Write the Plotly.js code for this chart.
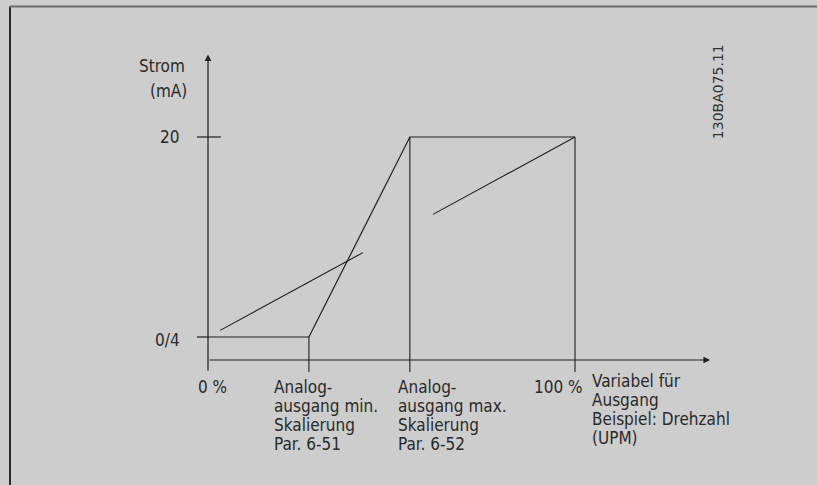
<!DOCTYPE html>
<html>
<head>
<meta charset="utf-8">
<script src="https://cdn.plot.ly/plotly-3.0.1.min.js"></script>
<style>
html,body{margin:0;padding:0;background:#cdcdcd;}
#chart{width:817px;height:485px;}
</style>
</head>
<body>
<div id="chart"></div>
<script>
// ---- data (x: % of output variable, y: current in mA) ----
var xMin = 27.5;          // Analog output min. scaling (Par. 6-51)
var xMax = 55;            // Analog output max. scaling (Par. 6-52)
var x100 = 100;
var yLow = 4;             // 0/4 mA
var yHigh = 20;           // 20 mA

// curve: flat at low, ramp between min and max, flat at high
var curveX = [0, xMin, xMax, x100];
var curveY = [yLow, yLow, yHigh, yHigh];

// reference linear line (drawn in two pieces)
var lin1X = [3.3, 42.2];
var lin1Y = [4.53, 10.75];
var lin2X = [61.3, 100];
var lin2Y = [13.81, 20];

// vertical guide lines
var guideX = [xMin, xMax, x100];
var guideTopY = [yLow, yHigh, yHigh];

// tick labels
var yTickVals = [yLow, yHigh];
var yTickText = ["0/4", "20"];
var yTitle = ["Strom", "(mA)"];
var xLabel0 = "0 %";
var xLabel100 = "100 %";
var xLabelMin = ["Analog-", "ausgang min.", "Skalierung", "Par. 6-51"];
var xLabelMax = ["Analog-", "ausgang max.", "Skalierung", "Par. 6-52"];
var xTitle = ["Variabel für", "Ausgang", "Beispiel: Drehzahl", "(UPM)"];
var docId = "130BA075.11";

// ---- layout helpers ----
var LC = "#1e1e1e";
var FONT = "DejaVu Sans Condensed, Liberation Sans Narrow, sans-serif";
var FS = 17;
var axisBottom = 1.2;     // axis line extension below x axis
var xAxisY = 2.16;
var yAxisTop = 26.6;
var xAxisEnd = 136.8;

var traces = [];
function seg(xs, ys, w) {
  traces.push({type: "scatter", mode: "lines", x: xs, y: ys,
    line: {color: LC, width: w || 1.2}, hoverinfo: "skip", showlegend: false, cliponaxis: false});
}
// curve
seg(curveX, curveY, 1.2);
// linear reference
seg(lin1X, lin1Y, 1.1);
seg(lin2X, lin2Y, 1.1);
// vertical guides down to below the x axis
for (var i = 0; i < guideX.length; i++) {
  seg([guideX[i], guideX[i]], [guideTopY[i], axisBottom], 1.1);
}
// y axis ticks (crossing the axis)
for (var j = 0; j < yTickVals.length; j++) {
  seg([-3, j === 0 ? 0 : 3.5], [yTickVals[j], yTickVals[j]], 1.2);
}

var ann = [];
function txt(x, y, t, xa, extra) {
  var a = {x: x, y: y, xref: "x", yref: "y", text: t, showarrow: false,
    xanchor: xa || "left", yanchor: "middle",
    font: {family: FONT, size: FS, color: "#2a2a2a"}};
  for (var k in extra) a[k] = extra[k];
  ann.push(a);
}
// axes with arrows
ann.push({x: 0, y: yAxisTop, ax: 0, ay: axisBottom, xref: "x", yref: "y", axref: "x", ayref: "y",
  showarrow: true, arrowhead: 2, arrowsize: 1.1, arrowwidth: 1.2, arrowcolor: LC, text: ""});
ann.push({x: xAxisEnd, y: xAxisY, ax: 0, ay: xAxisY, xref: "x", yref: "y", axref: "x", ayref: "y",
  showarrow: true, arrowhead: 2, arrowsize: 1.1, arrowwidth: 1.2, arrowcolor: LC, text: ""});

// y labels
txt(-5.7, 25.68, yTitle[0], "right");
txt(-5.3, 23.7, yTitle[1], "right");
txt(-7.3, yTickVals[1], yTickText[1], "right");
txt(-7.1, yTickVals[0] - 0.2, yTickText[0], "right");
// x labels
var lineStep = -1.52;
txt(1.2, 0.0, xLabel0, "center");
txt(102.7, 0.0, xLabel100, "right");
for (var m = 0; m < 4; m++) {
  txt(17.4, 0.0 + m * lineStep, xLabelMin[m], "left");
  txt(51.2, 0.0 + m * lineStep, xLabelMax[m], "left");
  txt(104.1, 0.48 + m * lineStep, xTitle[m], "left");
}
// document id, rotated
ann.push({x: 139, y: 23.6, xref: "x", yref: "y", text: docId, showarrow: false, textangle: -90,
  xanchor: "center", yanchor: "middle", font: {family: "DejaVu Sans, sans-serif", size: 14, color: "#333"}});

var layout = {
  width: 817, height: 485,
  margin: {l: 0, r: 0, t: 0, b: 0},
  paper_bgcolor: "#cdcdcd", plot_bgcolor: "#cdcdcd",
  xaxis: {range: [-56.68, 165.94], visible: false, fixedrange: true},
  yaxis: {range: [-7.84, 30.96], visible: false, fixedrange: true},
  showlegend: false,
  annotations: ann,
  shapes: [
    {type: "line", xref: "paper", yref: "paper", x0: 10/817, x1: 10/817, y0: 0, y1: 1 - 6.5/485,
      line: {color: "#2a2a2a", width: 2}},
    {type: "line", xref: "paper", yref: "paper", x0: 10/817, x1: 1, y0: 1 - 6.5/485, y1: 1 - 6.5/485,
      line: {color: "#6a6a6a", width: 2}}
  ]
};
Plotly.newPlot("chart", traces, layout, {staticPlot: true, displayModeBar: false});
</script>
</body>
</html>
